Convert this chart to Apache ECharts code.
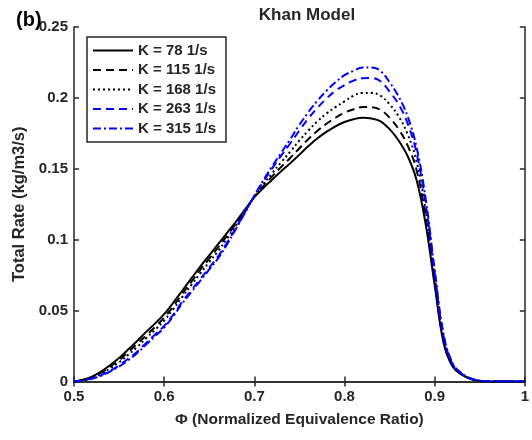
<!DOCTYPE html>
<html>
<head>
<meta charset="utf-8">
<script src="https://cdn.jsdelivr.net/npm/echarts@6/dist/echarts.min.js"></script>
<style>
  html, body { margin: 0; padding: 0; background: #fff; }
  #chart { width: 532px; height: 440px; }
</style>
</head>
<body>
<div id="chart"></div>
<script>
// Normalized equivalence ratio, sampled every 0.01
const phi = [0.50, 0.51, 0.52, 0.53, 0.54, 0.55, 0.56, 0.57, 0.58, 0.59,
             0.60, 0.61, 0.62, 0.63, 0.64, 0.65, 0.66, 0.67, 0.68, 0.69,
             0.70, 0.71, 0.72, 0.73, 0.74, 0.75, 0.76, 0.77, 0.78, 0.79,
             0.80, 0.81, 0.82, 0.83, 0.84, 0.85, 0.86, 0.87, 0.88, 0.89,
             0.90, 0.91, 0.92, 0.93, 0.94, 0.95, 0.96, 0.97, 0.98, 0.99, 1.00];

// Total reaction rate (kg/m3/s) for each strain rate K
const rateK78 = [0, 0.0012, 0.0035, 0.0070, 0.0115, 0.0165, 0.0225, 0.0285, 0.035, 0.041,
                 0.0475, 0.0555, 0.064, 0.0725, 0.081, 0.089, 0.097, 0.105, 0.113, 0.1215,
                 0.130, 0.1365, 0.1425, 0.1485, 0.154, 0.160, 0.166, 0.1715, 0.176, 0.180,
                 0.183, 0.185, 0.186, 0.1855, 0.1835, 0.178, 0.170, 0.159, 0.142, 0.111,
                 0.068, 0.027, 0.0105, 0.0048, 0.0018, 0.0004, 0, 0, 0, 0, 0];
const rateK115 = [0, 0.0011, 0.0031, 0.0063, 0.0104, 0.0150, 0.0207, 0.0265, 0.0325, 0.0385,
                  0.045, 0.053, 0.0617, 0.0702, 0.0787, 0.0867, 0.0947, 0.1030, 0.1117, 0.1210,
                  0.1302, 0.1378, 0.1448, 0.1515, 0.1578, 0.1645, 0.171, 0.1768, 0.1818, 0.186,
                  0.1895, 0.192, 0.1935, 0.1935, 0.1915, 0.186, 0.178, 0.1665, 0.149, 0.116,
                  0.071, 0.0285, 0.011, 0.005, 0.0019, 0.0004, 0, 0, 0, 0, 0];
const rateK168 = [0, 0.0009, 0.0027, 0.0055, 0.0092, 0.0135, 0.0188, 0.0243, 0.0305, 0.0365,
                  0.043, 0.051, 0.0595, 0.068, 0.0762, 0.0842, 0.0922, 0.1010, 0.1105, 0.1205,
                  0.1304, 0.139, 0.147, 0.1548, 0.1622, 0.170, 0.177, 0.1835, 0.189, 0.1935,
                  0.1975, 0.2015, 0.2035, 0.2035, 0.2015, 0.1955, 0.187, 0.1745, 0.155, 0.1205,
                  0.0735, 0.030, 0.0115, 0.0052, 0.002, 0.0005, 0, 0, 0, 0, 0];
const rateK263 = [0, 0.0008, 0.0022, 0.0045, 0.0076, 0.0112, 0.0160, 0.0210, 0.0272, 0.0332,
                  0.0392, 0.047, 0.0562, 0.0642, 0.0722, 0.0802, 0.0884, 0.0982, 0.1088, 0.1198,
                  0.1308, 0.141, 0.1505, 0.1595, 0.168, 0.177, 0.1855, 0.193, 0.1995, 0.205,
                  0.209, 0.2122, 0.2138, 0.214, 0.2117, 0.2045, 0.1955, 0.182, 0.161, 0.1255,
                  0.0765, 0.0318, 0.0122, 0.0055, 0.0021, 0.0005, 0.0001, 0, 0, 0, 0];
const rateK315 = [0, 0.0007, 0.002, 0.004, 0.007, 0.0105, 0.015, 0.020, 0.026, 0.032,
                  0.038, 0.046, 0.055, 0.063, 0.071, 0.079, 0.087, 0.097, 0.108, 0.1195,
                  0.131, 0.142, 0.152, 0.1615, 0.171, 0.181, 0.190, 0.198, 0.205, 0.211,
                  0.216, 0.219, 0.2215, 0.2215, 0.219, 0.211, 0.201, 0.187, 0.165, 0.129,
                  0.079, 0.033, 0.0127, 0.0058, 0.0022, 0.0006, 0.0001, 0, 0, 0, 0];

const seriesNames = ['K = 78 1/s', 'K = 115 1/s', 'K = 168 1/s', 'K = 263 1/s', 'K = 315 1/s'];
const seriesRates = [rateK78, rateK115, rateK168, rateK263, rateK315];
const seriesColors = ['#000000', '#000000', '#000000', '#0000ff', '#0000ff'];
const seriesDash = ['solid', [8, 5], [2, 3], [8, 5], [8, 3, 2, 3]];

const xTicks = [0.5, 0.6, 0.7, 0.8, 0.9, 1];
const yTicks = [0, 0.05, 0.1, 0.15, 0.2, 0.25];

const ink = '#262626';
const font = 'Arial, "Liberation Sans", sans-serif';

const chart = echarts.init(document.getElementById('chart'));

const axisLineStyle = { lineStyle: { color: ink, width: 1.5 } };
const tickStyle = { inside: true, length: 5, lineStyle: { color: ink, width: 1.5 } };

chart.setOption({
  animation: false,
  backgroundColor: '#ffffff',
  title: [
    {
      text: 'Khan Model',
      left: 302, top: 2, textAlign: 'center',
      textStyle: { fontFamily: font, fontWeight: 'bold', fontSize: 17, color: ink }
    },
    {
      text: '(b)',
      left: 11, top: 5,
      textStyle: { fontFamily: font, fontWeight: 'bold', fontSize: 20, color: '#000' }
    }
  ],
  grid: { left: 74, right: 4, top: 27, bottom: 58.5, containLabel: false },
  legend: {
    orient: 'vertical',
    left: 87, top: 37,
    padding: [6, 10, 6, 5],
    itemWidth: 40, itemHeight: 14, itemGap: 4.5, itemTextGap: 4,
    borderColor: ink, borderWidth: 1.5, backgroundColor: '#ffffff',
    itemStyle: { color: 'transparent', borderColor: 'transparent', borderWidth: 0 },
    data: seriesNames,
    textStyle: { fontFamily: font, fontWeight: 'bold', fontSize: 15, color: ink }
  },
  xAxis: [
    {
      type: 'value', min: 0.5, max: 1, interval: 0.1,
      name: '\u03A6 (Normalized Equivalence Ratio)',
      nameLocation: 'middle', nameGap: 30,
      nameTextStyle: { fontFamily: font, fontWeight: 'bold', fontSize: 15.5, color: ink },
      axisLine: axisLineStyle, axisTick: tickStyle,
      axisLabel: {
        margin: 8, fontFamily: font, fontWeight: 'bold', fontSize: 15, color: ink,
        formatter: v => xTicks.includes(+v.toFixed(2)) ? String(+v.toFixed(2)) : ''
      },
      splitLine: { show: false }
    },
    {
      type: 'value', min: 0.5, max: 1, interval: 0.1, position: 'top',
      axisLine: axisLineStyle, axisTick: tickStyle, axisLabel: { show: false },
      splitLine: { show: false }
    }
  ],
  yAxis: [
    {
      type: 'value', min: 0, max: 0.25, interval: 0.05,
      name: 'Total Rate (kg/m3/s)',
      nameLocation: 'middle', nameGap: 39, nameRotate: 90,
      nameTextStyle: { fontFamily: font, fontWeight: 'bold', fontSize: 16.5, color: ink },
      axisLine: axisLineStyle, axisTick: tickStyle,
      axisLabel: {
        margin: 6, fontFamily: font, fontWeight: 'bold', fontSize: 15, color: ink,
        formatter: v => yTicks.includes(+v.toFixed(2)) ? String(+v.toFixed(2)) : ''
      },
      splitLine: { show: false }
    },
    {
      type: 'value', min: 0, max: 0.25, interval: 0.05, position: 'right',
      axisLine: axisLineStyle, axisTick: tickStyle, axisLabel: { show: false },
      splitLine: { show: false }
    }
  ],
  series: seriesNames.map((name, i) => ({
    name,
    type: 'line',
    data: phi.map((p, j) => [p, seriesRates[i][j]]),
    smooth: 0.4,
    symbol: 'none',
    clip: true,
    z: 2 + i,
    color: seriesColors[i],
    lineStyle: { color: seriesColors[i], width: 2, type: seriesDash[i] }
  }))
});
</script>
</body>
</html>
